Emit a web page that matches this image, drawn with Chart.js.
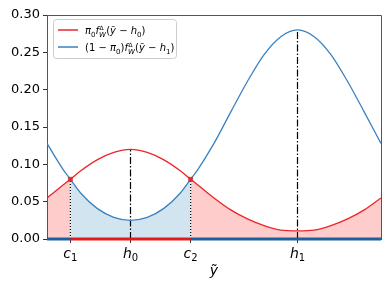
<!DOCTYPE html>
<html>
<head>
<meta charset="utf-8">
<script src="https://cdn.jsdelivr.net/npm/chart.js@4"></script>
<style>
  html, body { margin: 0; padding: 0; background: #fff; }
</style>
</head>
<body>
<canvas id="chart" width="390" height="293"></canvas>
<script>
// абсцисса ỹ (в условных единицах) и значения двух кривых
const xs = [0, 0.5, 0.7, 1, 1.5, 2, 2.5, 3, 3.5, 4, 4.3, 4.5, 5, 5.5, 6, 6.5, 7, 7.5, 8, 8.5, 9, 9.5, 10];
const redVals = [0.055, 0.073, 0.080, 0.091, 0.106, 0.116, 0.120, 0.116, 0.106, 0.091, 0.080, 0.073, 0.055,
                 0.039, 0.027, 0.018, 0.012, 0.011, 0.012, 0.018, 0.027, 0.039, 0.055];
const blueVals = [0.128, 0.092, 0.080, 0.062, 0.041, 0.029, 0.025, 0.029, 0.041, 0.062, 0.080, 0.092, 0.128,
                  0.170, 0.211, 0.247, 0.271, 0.280, 0.271, 0.247, 0.211, 0.170, 0.128];

// пороги и центры
const c1 = 0.7, c2 = 4.3, h0 = 2.5, h1 = 7.5;
const crossY = 0.080;
const tickPos = [c1, h0, c2, h1];
const tickNames = [['c', '1'], ['h', '0'], ['c', '2'], ['h', '1']];

const RED = '#ee2428';
const BLUE = '#3a82c0';
const FAM = '"DejaVu Sans"';

function pts(vals, lo, hi) {
    return xs.map((x, i) => ({ x: x, y: vals[i] })).filter(p => p.x >= lo - 1e-9 && p.x <= hi + 1e-9);
}
function seg(x0, y0, x1, y1) {
    return [{ x: x0, y: y0 }, { x: x1, y: y1 }];
}
const peakRed = Math.max(...redVals);
const peakBlue = Math.max(...blueVals);

// --- рамка, подписи оси x и легенда рисуются вручную ---
const framePlugin = {
    id: 'frame',
    beforeDatasetsDraw(chart) {
        const a = chart.chartArea, ctx = chart.ctx;
        ctx.save();
        ctx.strokeStyle = '#555';
        ctx.lineWidth = 1;
        ctx.beginPath();
        ctx.moveTo(a.left, a.top + 0.5);
        ctx.lineTo(a.right + 0.5, a.top + 0.5);
        ctx.lineTo(a.right + 0.5, a.bottom);
        ctx.stroke();
        ctx.restore();
    }
};

const xLabelPlugin = {
    id: 'xLabels',
    afterDraw(chart) {
        const ctx = chart.ctx, sx = chart.scales.x;
        const base = chart.chartArea.bottom + 19;
        ctx.save();
        ctx.fillStyle = '#000';
        ctx.textBaseline = 'alphabetic';
        tickPos.forEach((v, i) => {
            const [letter, idx] = tickNames[i];
            ctx.font = 'italic 14px ' + FAM;
            const w1 = ctx.measureText(letter).width;
            ctx.font = '10px ' + FAM;
            const w2 = ctx.measureText(idx).width;
            let x = sx.getPixelForValue(v) - (w1 + w2) / 2;
            ctx.font = 'italic 14px ' + FAM;
            ctx.fillText(letter, x, base);
            ctx.font = '10px ' + FAM;
            ctx.fillText(idx, x + w1, base + 3);
        });
        ctx.restore();
    }
};

// кусочки формулы: [текст, вид, верхний индекс]
const legendItems = [
    { color: RED, parts: [['π', 'i'], ['0', 'sub'], ['f', 'i'], ['W', 'subsup', 'Δ'], ['(', 'n'], ['ỹ', 'i'], [' − ', 'n'], ['h', 'i'], ['0', 'sub'], [')', 'n']] },
    { color: BLUE, parts: [['(1 − ', 'n'], ['π', 'i'], ['0', 'sub'], [')', 'n'], ['f', 'i'], ['W', 'subsup', 'Δ'], ['(', 'n'], ['ỹ', 'i'], [' − ', 'n'], ['h', 'i'], ['1', 'sub'], [')', 'n']] }
];

function drawMath(ctx, parts, x, y) {
    parts.forEach(p => {
        const [txt, kind, sup] = p;
        if (kind === 'sub') {
            ctx.font = '7px ' + FAM;
            ctx.fillText(txt, x, y + 2.5);
            x += ctx.measureText(txt).width;
        } else if (kind === 'subsup') {
            ctx.font = 'italic 7px ' + FAM;
            ctx.fillText(txt, x, y + 2.5);
            const w1 = ctx.measureText(txt).width;
            ctx.font = '6px ' + FAM;
            ctx.fillText(sup, x + 0.5, y - 4.5);
            const w2 = ctx.measureText(sup).width;
            x += Math.max(w1, w2) + 0.3;
        } else {
            ctx.font = (kind === 'i' ? 'italic ' : '') + '10px ' + FAM;
            ctx.fillText(txt, x, y);
            x += ctx.measureText(txt).width;
        }
    });
}

const legendPlugin = {
    id: 'mathLegend',
    afterDraw(chart) {
        const ctx = chart.ctx;
        const bx = 53, by = 19, bw = 123, bh = 39;
        ctx.save();
        ctx.fillStyle = 'rgba(255,255,255,0.85)';
        ctx.strokeStyle = '#cccccc';
        ctx.lineWidth = 1;
        ctx.beginPath();
        ctx.roundRect(bx + 0.5, by + 0.5, bw, bh, 3);
        ctx.fill();
        ctx.stroke();
        ctx.fillStyle = '#000';
        ctx.textBaseline = 'alphabetic';
        legendItems.forEach((it, i) => {
            const ly = by + 11 + i * 17;
            ctx.strokeStyle = it.color;
            ctx.lineWidth = 1.5;
            ctx.beginPath();
            ctx.moveTo(bx + 5, ly);
            ctx.lineTo(bx + 25, ly);
            ctx.stroke();
            drawMath(ctx, it.parts, bx + 32, ly + 4);
        });
        ctx.restore();
    }
};

const curve = (vals, color) => ({
    data: pts(vals, 0, 10),
    borderColor: color,
    borderWidth: 1.3,
    pointRadius: 0,
    cubicInterpolationMode: 'monotone',
    fill: false,
    order: 3
});
const area = (vals, lo, hi, color) => ({
    data: pts(vals, lo, hi),
    borderWidth: 0,
    borderColor: 'rgba(0,0,0,0)',
    backgroundColor: color,
    pointRadius: 0,
    cubicInterpolationMode: 'monotone',
    fill: 'origin',
    order: 10
});
const vline = (x, top, dash) => ({
    data: seg(x, 0, x, top),
    borderColor: '#000',
    borderWidth: 1.2,
    borderDash: dash,
    pointRadius: 0,
    fill: false,
    order: 5
});
const baseLine = (x0, x1, color) => ({
    data: seg(x0, 0, x1, 0),
    borderColor: color,
    borderWidth: 3,
    pointRadius: 0,
    fill: false,
    clip: 4,
    order: 2
});

new Chart(document.getElementById('chart'), {
    type: 'line',
    data: {
        datasets: [
            area(redVals, 0, c1, 'rgba(255,0,0,0.2)'),
            area(redVals, c2, 10, 'rgba(255,0,0,0.2)'),
            area(blueVals, c1, c2, 'rgba(31,119,180,0.2)'),
            vline(h0, peakRed, [7, 2, 1.5, 2]),
            vline(h1, peakBlue, [7, 2, 1.5, 2]),
            vline(c1, crossY, [1, 2]),
            vline(c2, crossY, [1, 2]),
            curve(redVals, RED),
            curve(blueVals, BLUE),
            baseLine(0, c1, '#1f5f9f'),
            baseLine(c1, c2, '#e41a1c'),
            baseLine(c2, 10, '#1f5f9f'),
            {
                data: [{ x: c1, y: crossY }, { x: c2, y: crossY }],
                showLine: false,
                pointRadius: 3.5,
                pointStyle: 'rect',
                pointBackgroundColor: 'rgba(220,40,40,0.85)',
                pointBorderWidth: 0,
                clip: 6,
                order: 1
            }
        ]
    },
    options: {
        responsive: false,
        animation: false,
        devicePixelRatio: 1,
        layout: { padding: { top: 15, right: 9, left: 0, bottom: 0 } },
        plugins: { legend: { display: false }, tooltip: { enabled: false } },
        scales: {
            x: {
                type: 'linear',
                min: 0,
                max: 10,
                afterFit: s => { s.height = 54; },
                afterBuildTicks: s => { s.ticks = tickPos.map(v => ({ value: v })); },
                ticks: {
                    autoSkip: false,
                    maxRotation: 0,
                    padding: 2,
                    font: { family: FAM, size: 14 },
                    callback: () => ''
                },
                grid: { drawOnChartArea: false, drawTicks: true, tickLength: 4, color: '#333' },
                border: { color: '#555', width: 1 },
                title: {
                    display: true,
                    text: 'ỹ',
                    color: '#000',
                    font: { family: FAM, size: 14, style: 'italic' },
                    padding: { top: 0, bottom: 13 }
                }
            },
            y: {
                min: 0,
                max: 0.3,
                afterFit: s => { s.width = 47; },
                ticks: {
                    stepSize: 0.05,
                    padding: 3,
                    color: '#000',
                    font: { family: FAM, size: 13 },
                    callback: v => v.toFixed(2)
                },
                grid: { drawOnChartArea: false, drawTicks: true, tickLength: 4, color: '#333' },
                border: { color: '#555', width: 1 }
            }
        }
    },
    plugins: [framePlugin, xLabelPlugin, legendPlugin]
});
</script>
</body>
</html>
